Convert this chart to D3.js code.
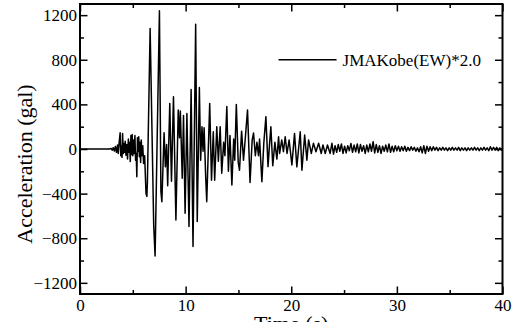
<!DOCTYPE html>
<html>
<head>
<meta charset="utf-8">
<script src="https://cdn.jsdelivr.net/npm/d3@7"></script>
<style>
  html, body { margin: 0; padding: 0; background: #fff; }
  svg { display: block; font-family: "Liberation Serif", "Times New Roman", serif; }
</style>
</head>
<body>
<div id="chart"></div>
<script>
// ---- Data: JMA Kobe (EW) record scaled x2.0, [time (s), acceleration (gal)]
const quiet = [[0, 0], [2.8, 0]];
const onset = [
  [2.95, 5], [3.05, -10], [3.15, 12], [3.25, -18], [3.35, 22], [3.45, -30], [3.55, 35], [3.62, -40],
  [3.7, 50], [3.8, 146], [3.86, -60], [3.92, 30], [3.98, -75], [4.03, 140], [4.1, -40], [4.16, 50],
  [4.22, -30], [4.28, 70], [4.35, -55], [4.42, 40], [4.5, -90], [4.58, 90], [4.64, -30], [4.7, 60],
  [4.76, -113], [4.82, 120], [4.88, -50], [4.94, 130], [5.0, -60], [5.06, 80], [5.12, -40], [5.2, 120],
  [5.26, -100], [5.32, -40], [5.38, -248], [5.44, 100], [5.5, -20], [5.56, 110], [5.62, -70], [5.68, 60],
  [5.74, -120], [5.8, 80], [5.86, -60], [5.94, 30], [6.02, -130]
];
const strongMotion = [
  [6.12, -60], [6.25, -400], [6.33, -425], [6.38, -300], [6.64, 1080], [6.98, -690], [7.11, -960],
  [7.52, 1240], [7.66, -380], [7.75, -472], [7.96, 146], [8.08, -160], [8.2, 40], [8.3, -330],
  [8.5, 409], [8.66, -290], [8.85, 468], [9.08, -636], [9.3, 349], [9.42, 100], [9.5, 340],
  [9.68, -263], [9.8, 300], [9.95, -576], [10.12, 319], [10.32, -695], [10.52, 534], [10.7, -875],
  [10.95, 1119], [11.1, -651], [11.3, 552], [11.42, -100], [11.55, 200], [11.65, -20], [11.75, 190],
  [11.9, -250], [12.0, -472], [12.28, 409], [12.45, -280], [12.62, 155], [12.75, -280], [12.95, 200],
  [13.1, -110]
];
const coda = [
  [13.27, 200], [13.42, -218], [13.6, 60], [13.72, -60], [13.9, 380], [14.05, -200], [14.2, 120],
  [14.38, -322], [14.55, 90], [14.65, -100], [14.8, 400], [14.98, -120], [15.1, -190], [15.3, 160],
  [15.48, -100], [15.62, 60], [15.86, 349], [16.1, -300], [16.3, 80], [16.43, 143], [16.6, -60],
  [16.75, 60], [16.9, -60], [17.0, 90], [17.22, -293], [17.4, 50], [17.6, 290], [17.8, -158],
  [17.95, 50], [18.07, 200], [18.25, -150], [18.45, 60], [18.64, -90], [18.8, 110], [18.9, -40],
  [19.1, 81], [19.26, -24], [19.43, 110], [19.6, -40], [19.8, 81], [20.06, -143], [20.31, 140],
  [20.53, -160], [20.85, 155], [21.01, -190], [21.27, 125], [21.48, -100], [21.64, 81], [21.9, -40],
  [22.1, 51], [22.34, -24], [22.59, 51], [22.84, -40], [23.0, 36], [23.22, -40], [23.43, 36],
  [23.68, -40], [23.85, 51]
];
const tail = [
  [24.0, -45], [24.15, 30], [24.3, -30], [24.45, 40], [24.6, -20], [24.75, 45], [24.9, -40], [25.05, 25],
  [25.2, -35], [25.35, 30], [25.5, -15], [25.65, 50], [25.8, -30], [25.95, 35], [26.1, -25], [26.25, 45],
  [26.4, -35], [26.55, 40], [26.7, -20], [26.85, 30], [27.0, -40], [27.15, 35], [27.3, -25], [27.45, 45],
  [27.6, -20], [27.75, 66], [27.9, -35], [28.05, 40], [28.2, -30], [28.35, 30], [28.5, -40], [28.65, 25],
  [28.8, -20], [28.95, 35], [29.1, -25], [29.25, 45], [29.4, -30], [29.55, 25], [29.7, -25], [29.85, 30],
  [30.0, -15], [30.15, 25], [30.3, -20], [30.45, 20], [30.6, -15], [30.75, 25], [30.9, -20], [31.05, 15],
  [31.2, -15], [31.35, 20], [31.5, -10], [31.65, 15], [31.8, -20], [31.95, 10], [32.1, -25], [32.25, 20],
  [32.4, -35], [32.55, 30], [32.7, -40], [32.85, 25], [33.0, -20], [33.15, 20], [33.3, -15], [33.45, 20],
  [33.6, -10], [33.75, 15], [33.9, -15], [34.05, 10], [34.2, -10], [34.35, 15], [34.5, -10], [34.65, 10],
  [34.8, -15], [34.95, 10], [35.1, -10], [35.25, 15], [35.4, -10], [35.55, 10], [35.7, -10], [35.85, 15],
  [36.0, -15], [36.15, 10], [36.3, -10], [36.45, 10], [36.6, -15], [36.75, 10], [36.9, -10], [37.05, 10],
  [37.2, -10], [37.35, 15], [37.5, -10], [37.65, 10], [37.8, -15], [37.95, 10], [38.1, -10], [38.25, 15],
  [38.4, -10], [38.55, 10], [38.7, -15], [38.85, 20], [39.0, -10], [39.15, 15], [39.3, -10], [39.45, 15],
  [39.6, -15], [39.75, 10], [39.9, -10], [40.0, 5]
];

const xMajorTicks = [0, 10, 20, 30, 40];
const xMinorTicks = [5, 15, 25, 35];
const yMajorTicks = [-1200, -800, -400, 0, 400, 800, 1200];
const yMinorTicks = [-1000, -600, -200, 200, 600, 1000];
const seriesLabel = 'JMAKobe(EW)*2.0';
const xTitle = 'Time (s)';
const yTitle = 'Acceleration (gal)';

const record = [...quiet, ...onset, ...strongMotion, ...coda, ...tail].map(([t, a]) => ({ t, a }));

// ---- Layout
const width = 517, height = 322;
const margin = { top: 4, right: 14.5, bottom: 28, left: 80 };
const innerW = width - margin.left - margin.right;
const innerH = height - margin.top - margin.bottom;

const svg = d3.select('#chart')
  .append('svg')
  .attr('width', width)
  .attr('height', height);

const x = d3.scaleLinear().domain([0, 40]).range([margin.left, margin.left + innerW]);
const y = d3.scaleLinear().domain([-1300, 1300]).range([margin.top + innerH, margin.top]);

// ---- Axes (ticks point inward on all four sides)
const styleAxis = (g) => {
  g.select('.domain').remove();
  g.selectAll('.tick line').attr('stroke', '#000').attr('stroke-width', 1.5);
  g.selectAll('.tick text').attr('fill', '#000').style('font-size', '17px')
    .style('font-family', '"Liberation Serif", "Times New Roman", serif');
};

svg.append('g')
  .attr('transform', `translate(0,${margin.top + innerH})`)
  .call(d3.axisBottom(x).tickValues(xMajorTicks).tickSize(-7.5).tickPadding(5).tickFormat(d3.format('d')))
  .call(styleAxis);
svg.append('g')
  .attr('transform', `translate(0,${margin.top + innerH})`)
  .call(d3.axisBottom(x).tickValues(xMinorTicks).tickSize(-4).tickFormat(''))
  .call(styleAxis);
svg.append('g')
  .attr('transform', `translate(0,${margin.top})`)
  .call(d3.axisTop(x).tickValues(xMajorTicks).tickSize(-7.5).tickFormat(''))
  .call(styleAxis);
svg.append('g')
  .attr('transform', `translate(0,${margin.top})`)
  .call(d3.axisTop(x).tickValues(xMinorTicks).tickSize(-4).tickFormat(''))
  .call(styleAxis);

svg.append('g')
  .attr('transform', `translate(${margin.left},0)`)
  .call(d3.axisLeft(y).tickValues(yMajorTicks).tickSize(-7.5).tickPadding(3).tickFormat(d3.format('d')))
  .call(styleAxis);
svg.append('g')
  .attr('transform', `translate(${margin.left},0)`)
  .call(d3.axisLeft(y).tickValues(yMinorTicks).tickSize(-4).tickFormat(''))
  .call(styleAxis);
svg.append('g')
  .attr('transform', `translate(${margin.left + innerW},0)`)
  .call(d3.axisRight(y).tickValues(yMajorTicks).tickSize(-7.5).tickFormat(''))
  .call(styleAxis);
svg.append('g')
  .attr('transform', `translate(${margin.left + innerW},0)`)
  .call(d3.axisRight(y).tickValues(yMinorTicks).tickSize(-4).tickFormat(''))
  .call(styleAxis);

// ---- Trace
const line = d3.line().x(d => x(d.t)).y(d => y(d.a));
svg.append('path')
  .datum(record)
  .attr('d', line)
  .attr('fill', 'none')
  .attr('stroke', '#000')
  .attr('stroke-width', 1.5)
  .attr('stroke-linejoin', 'round');

// ---- Frame
svg.append('rect')
  .attr('x', margin.left)
  .attr('y', margin.top)
  .attr('width', innerW)
  .attr('height', innerH)
  .attr('fill', 'none')
  .attr('stroke', '#000')
  .attr('stroke-width', 2);

// ---- Legend
const legend = svg.append('g').attr('transform', `translate(${x(18.8)},${y(800)})`);
legend.append('line')
  .attr('x1', 0).attr('x2', 58)
  .attr('y1', 0).attr('y2', 0)
  .attr('stroke', '#000').attr('stroke-width', 1.5);
legend.append('text')
  .attr('x', 64).attr('y', 6)
  .style('font-size', '17px')
  .text(seriesLabel);

// ---- Axis titles
svg.append('text')
  .attr('x', margin.left + innerW / 2)
  .attr('y', 331)
  .attr('text-anchor', 'middle')
  .style('font-size', '22px')
  .text(xTitle);
svg.append('text')
  .attr('transform', `translate(32,${margin.top + 160}) rotate(-90)`)
  .attr('text-anchor', 'middle')
  .style('font-size', '22px')
  .text(yTitle);
</script>
</body>
</html>
